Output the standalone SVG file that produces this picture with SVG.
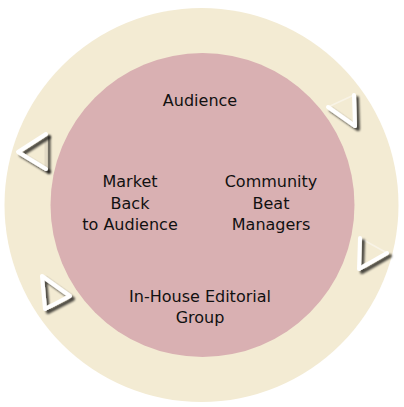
<svg xmlns="http://www.w3.org/2000/svg" width="404" height="407" viewBox="0 0 404 407">
<style>
.lbl{font-family:"DejaVu Sans","Verdana",sans-serif;font-size:16px;fill:#111;text-anchor:middle}
.hi{fill:none;stroke:#ffffff;stroke-width:4;stroke-linejoin:round;stroke-linecap:round}
.lo{fill:none;stroke:#f8f3e6;stroke-width:1.5;stroke-linecap:round}
.mid{fill:none;stroke:#e2dac6;stroke-width:3;stroke-linecap:round}
</style>
<defs>
<filter id="sh" filterUnits="userSpaceOnUse" x="0" y="0" width="404" height="407">
<feGaussianBlur in="SourceAlpha" stdDeviation="1.3"/>
<feOffset dx="2.5" dy="3"/>
<feComponentTransfer><feFuncA type="linear" slope="0.7"/></feComponentTransfer>
<feMerge><feMergeNode/><feMergeNode in="SourceGraphic"/></feMerge>
</filter>
</defs>
<g id="ring"><circle cx="201.5" cy="205" r="197" fill="#f3ebd3"/></g>
<g id="core"><circle cx="202.5" cy="205" r="152" fill="#d9b0b2"/></g>
<g id="connectors">
<path class="lo" d="M328,107 L354,95"/>
<path class="hi" filter="url(#sh)" d="M328,107 L355,126 L354,95"/>
<path class="lo" d="M360,238 L387,253"/>
<path class="hi" filter="url(#sh)" d="M360,238 L359,269 L387,253"/>
<path class="mid" filter="url(#sh)" d="M46,134 L46,169"/>
<path class="hi" filter="url(#sh)" d="M46,134 L18,152 L46,169"/>
<path class="hi" filter="url(#sh)" d="M70,296 L42,276 L45,309 Z"/>
</g>
<g id="audience"><text class="lbl" x="200" y="106">Audience</text></g>
<g id="market"><text class="lbl" x="130" y="187">Market</text><text class="lbl" x="130" y="208.5">Back</text><text class="lbl" x="130" y="230">to Audience</text></g>
<g id="community"><text class="lbl" x="271" y="187">Community</text><text class="lbl" x="271" y="208.5">Beat</text><text class="lbl" x="271" y="230">Managers</text></g>
<g id="editorial"><text class="lbl" x="200" y="302">In-House Editorial</text><text class="lbl" x="200" y="323">Group</text></g>
</svg>
